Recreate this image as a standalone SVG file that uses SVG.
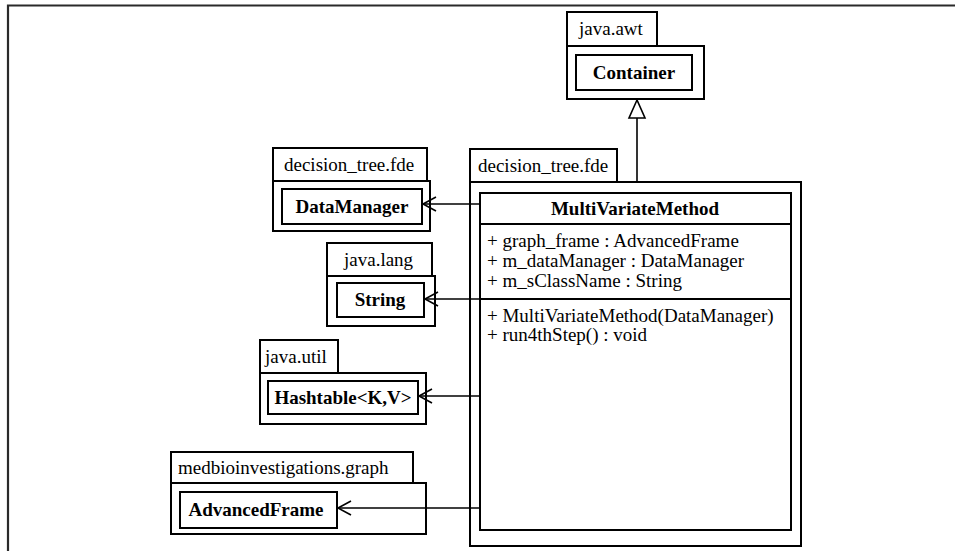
<svg xmlns="http://www.w3.org/2000/svg" width="955" height="551" viewBox="0 0 955 551">
<defs>
<style>
.box{fill:#fff;stroke:#000;stroke-width:2}
.t{font-family:"Liberation Serif","Times New Roman","DejaVu Serif",serif;font-size:19px;fill:#000}
.b{font-family:"Liberation Serif","Times New Roman","DejaVu Serif",serif;font-size:19px;font-weight:bold;fill:#000;text-anchor:middle}
.ln{fill:none;stroke:#000;stroke-width:1.6}
</style>
<marker id="open" markerUnits="userSpaceOnUse" markerWidth="16" markerHeight="16" viewBox="0 0 16 16" refX="14" refY="8" orient="auto">
<path d="M1,1 L14,8 L1,15" fill="none" stroke="#000" stroke-width="1.6"/>
</marker>
</defs>
<rect width="955" height="551" fill="#fff"/>
<path d="M8,551 V5.5 H955" fill="none" stroke="#2a2a2a" stroke-width="2.2"/>

<g id="pkg-java-awt">
<rect class="box" x="567" y="12" width="90" height="34"/>
<text class="t" x="579" y="35">java.awt</text>
<rect class="box" x="567" y="46" width="137" height="53"/>
</g>
<g id="Container">
<rect class="box" x="576" y="55" width="116" height="35"/>
<text class="b" x="634" y="79">Container</text>
</g>

<g id="pkg-decision-tree-left">
<rect class="box" x="273" y="148" width="154" height="33"/>
<text class="t" x="284" y="171">decision_tree.fde</text>
<rect class="box" x="273" y="181" width="157" height="50"/>
</g>
<g id="DataManager">
<rect class="box" x="282" y="189" width="140" height="35"/>
<text class="b" x="352" y="213">DataManager</text>
</g>

<g id="pkg-java-lang">
<rect class="box" x="327" y="243" width="105" height="33"/>
<text class="t" x="344" y="266">java.lang</text>
<rect class="box" x="327" y="276" width="108" height="50"/>
</g>
<g id="String">
<rect class="box" x="337" y="283" width="87" height="34"/>
<text class="b" x="380" y="306">String</text>
</g>

<g id="pkg-java-util">
<rect class="box" x="260" y="340" width="78" height="33"/>
<text class="t" x="265" y="363">java.util</text>
<rect class="box" x="260" y="373" width="166" height="51"/>
</g>
<g id="Hashtable">
<rect class="box" x="268" y="381" width="150" height="33"/>
<text class="b" x="343" y="404">Hashtable&lt;K,V&gt;</text>
</g>

<g id="pkg-medbio-graph">
<rect class="box" x="171" y="452" width="242" height="31"/>
<text class="t" x="178" y="474">medbioinvestigations.graph</text>
<rect class="box" x="171" y="483" width="255" height="51"/>
</g>
<g id="AdvancedFrame">
<rect class="box" x="180" y="492" width="157" height="36"/>
<text class="b" x="256" y="516">AdvancedFrame</text>
</g>

<g id="pkg-decision-tree-main">
<rect class="box" x="470" y="149" width="147" height="33"/>
<text class="t" x="478" y="172">decision_tree.fde</text>
<rect class="box" x="470" y="182" width="331" height="364"/>
</g>
<g id="MultiVariateMethod">
<rect class="box" x="480" y="193" width="311" height="337"/>
<line x1="480" y1="224" x2="791" y2="224" stroke="#000" stroke-width="2"/>
<line x1="480" y1="299" x2="791" y2="299" stroke="#000" stroke-width="2"/>
<text class="b" x="635" y="215">MultiVariateMethod</text>
<text class="t" x="487" y="247">+ graph_frame : AdvancedFrame</text>
<text class="t" x="487" y="267">+ m_dataManager : DataManager</text>
<text class="t" x="487" y="287">+ m_sClassName : String</text>
<text class="t" x="487" y="322">+ MultiVariateMethod(DataManager)</text>
<text class="t" x="487" y="341">+ run4thStep() : void</text>
</g>

<g id="connectors">
<line class="ln" x1="480" y1="204" x2="423" y2="204" marker-end="url(#open)"/>
<line class="ln" x1="480" y1="299" x2="425" y2="299" marker-end="url(#open)"/>
<line class="ln" x1="480" y1="396" x2="419" y2="396" marker-end="url(#open)"/>
<line class="ln" x1="480" y1="508" x2="338" y2="508" marker-end="url(#open)"/>
<line class="ln" x1="637" y1="182" x2="637" y2="118"/>
<polygon points="637,100 629,118 645,118" fill="#fff" stroke="#000" stroke-width="1.6"/>
</g>
</svg>
